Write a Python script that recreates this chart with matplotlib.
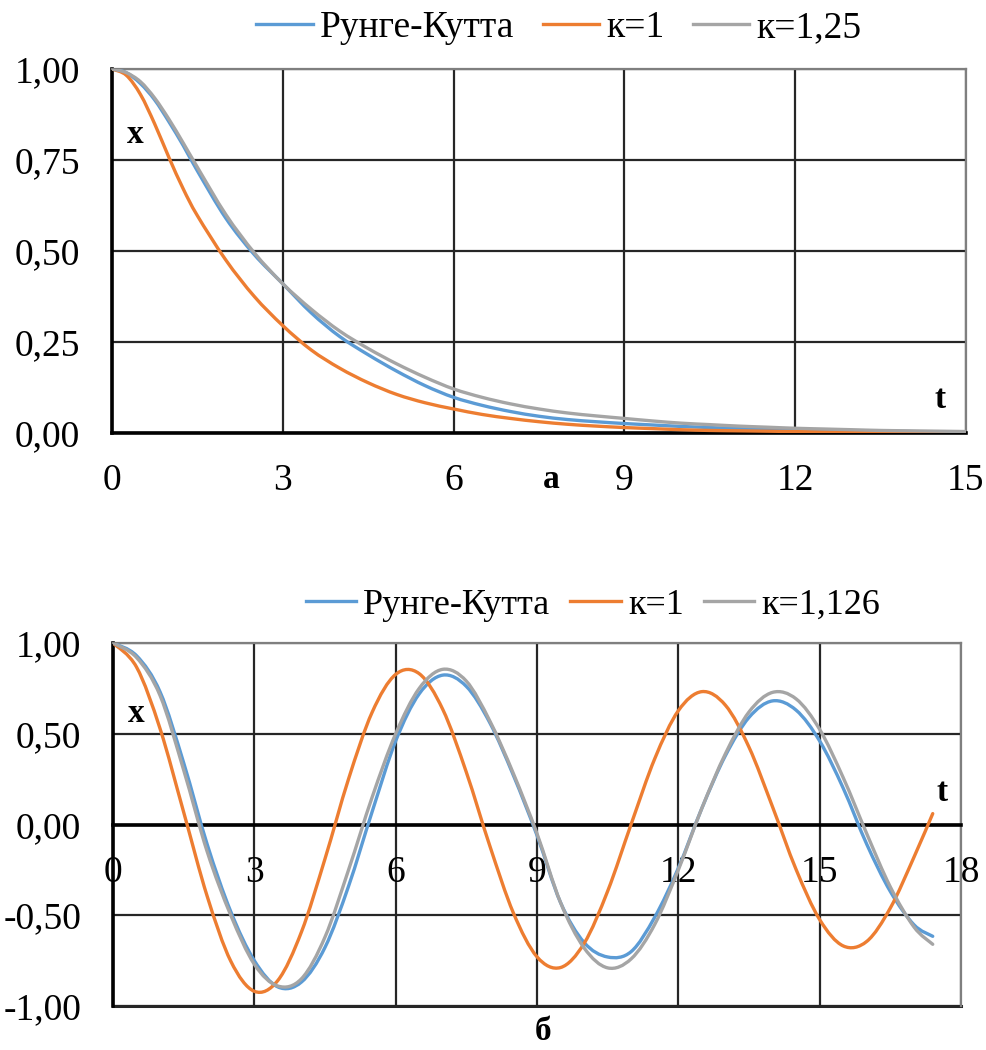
import matplotlib as mpl
import numpy as np
mpl.use('Agg')
import matplotlib.pyplot as plt
from matplotlib.path import Path
from matplotlib.patches import PathPatch
from matplotlib.lines import Line2D
from matplotlib.ticker import FuncFormatter

# ---- data: chart "а" (t = 0 ... 15)
t_a = [0, 0.25, 0.5, 0.75, 1.0, 1.25, 1.5, 2.0, 2.5, 3.0, 3.5, 4.0, 4.5, 5.0, 5.5,
       6.0, 6.5, 7.0, 7.5, 8.0, 8.5, 9.0, 9.5, 10.0, 10.5, 11.0, 11.5, 12.0, 12.5,
       13.0, 13.5, 14.0, 14.5, 15.0]
rk_a = [1.000, 0.990, 0.960, 0.915, 0.855, 0.790, 0.720, 0.590, 0.490, 0.410, 0.330,
        0.265, 0.215, 0.170, 0.130, 0.098, 0.076, 0.059, 0.046, 0.037, 0.031, 0.026,
        0.022, 0.018, 0.015, 0.012, 0.010, 0.008, 0.007, 0.006, 0.005, 0.004, 0.003, 0.003]
k1_a = [1.000, 0.983, 0.930, 0.849, 0.757, 0.671, 0.597, 0.475, 0.375, 0.295, 0.228,
        0.178, 0.138, 0.106, 0.083, 0.066, 0.051, 0.040, 0.031, 0.024, 0.019, 0.015,
        0.012, 0.009, 0.007, 0.006, 0.005, 0.004, 0.003, 0.002, 0.002, 0.001, 0.001, 0.001]
k2_a = [1.000, 0.990, 0.965, 0.920, 0.862, 0.797, 0.730, 0.600, 0.495, 0.410, 0.340,
        0.280, 0.232, 0.190, 0.153, 0.121, 0.098, 0.080, 0.066, 0.055, 0.047, 0.040,
        0.033, 0.027, 0.023, 0.019, 0.016, 0.013, 0.011, 0.009, 0.007, 0.006, 0.005, 0.004]
labels_a = ['Рунге-Кутта', 'к=1', 'к=1,25']

# ---- data: chart "б" (t = 0 ... 17, step 0.5, last point 17.4)
t_b = list(np.arange(0, 17.01, 0.5)) + [17.4]
rk_b = [1.00, 0.93, 0.73, 0.34, -0.11, -0.48, -0.75, -0.895, -0.868, -0.677,
        -0.34, 0.07, 0.46, 0.72, 0.823, 0.761, 0.56, 0.27, -0.06, -0.43,
        -0.65, -0.73, -0.70, -0.51, -0.24, 0.09, 0.38, 0.59, 0.681, 0.63,
        0.46, 0.20, -0.109, -0.369, -0.552, -0.616]
k1_b = [1.000, 0.867, 0.527, 0.068, -0.396, -0.753, -0.919, -0.859, -0.592, -0.189,
        0.251, 0.618, 0.827, 0.831, 0.634, 0.288, -0.119, -0.488, -0.729, -0.788,
        -0.655, -0.367, 0.003, 0.363, 0.627, 0.732, 0.657, 0.426, 0.097, -0.248,
        -0.524, -0.669, -0.644, -0.460, -0.181, 0.06]
k2_b = [1.00, 0.92, 0.71, 0.30, -0.15, -0.50, -0.77, -0.89, -0.85, -0.62,
        -0.25, 0.15, 0.50, 0.75, 0.855, 0.79, 0.57, 0.28, -0.05, -0.43,
        -0.68, -0.79, -0.74, -0.55, -0.25, 0.09, 0.39, 0.62, 0.728, 0.692,
        0.524, 0.258, -0.051, -0.344, -0.564, -0.660]
labels_b = ['Рунге-Кутта', 'к=1', 'к=1,126']

colors = ['#5B9BD5', '#ED7D31', '#A5A5A5']
FONT = 'Liberation Serif'
FS = 27
plt.rcParams['font.family'] = [FONT, 'DejaVu Serif']


def smooth_path(x, y):
    # excel-like smoothed line: catmull-rom segments as cubic beziers
    x = np.asarray(x, float)
    y = np.asarray(y, float)
    px = np.concatenate([[x[0]], x, [x[-1]]])
    py = np.concatenate([[y[0]], y, [y[-1]]])
    verts = [(x[0], y[0])]
    codes = [Path.MOVETO]
    for i in range(len(x) - 1):
        c1 = (px[i+1] + (px[i+2] - px[i]) / 6, py[i+1] + (py[i+2] - py[i]) / 6)
        c2 = (px[i+2] - (px[i+3] - px[i+1]) / 6, py[i+2] - (py[i+3] - py[i+1]) / 6)
        verts += [c1, c2, (px[i+2], py[i+2])]
        codes += [Path.CURVE4] * 3
    return Path(verts, codes)


def comma(v, pos):
    return '{:.2f}'.format(v).replace('.', ',')


def style_axes(ax):
    ax.grid(True, color='#262626', lw=1.6)
    ax.set_axisbelow(True)
    ax.tick_params(length=0, labelsize=FS)
    ax.tick_params(axis='y', pad=23)
    ax.tick_params(axis='x', pad=22)
    for s in ['top', 'right']:
        ax.spines[s].set_color('#7f7f7f')
        ax.spines[s].set_linewidth(1.6)
    ax.spines['left'].set_color('black')
    ax.spines['left'].set_linewidth(2.6)
    ax.spines['bottom'].set_color('black')
    ax.spines['bottom'].set_linewidth(2.6)
    ax.yaxis.set_major_formatter(FuncFormatter(comma))


def draw_series(ax, t, series):
    for ys, c in zip(series, colors):
        ax.add_patch(PathPatch(smooth_path(t, ys), fill=False, edgecolor=c,
                               lw=2.4, capstyle='round', joinstyle='round', zorder=3))


def bold(ax_or_fig, x, y, s, **kw):
    ax_or_fig.text(x, y, s, fontsize=24, fontweight='bold', ha='center', va='center', **kw)


fig = plt.figure(figsize=(9.87, 10.5), dpi=100)
handles = [Line2D([], [], color=c, lw=2.4) for c in colors]

# ---------------- chart а
ax1 = fig.add_axes([112/987, 1 - 433/1050, 854/987, 364/1050])
draw_series(ax1, t_a, [rk_a, k1_a, k2_a])
ax1.set_xlim(0, 15)
ax1.set_ylim(0, 1)
ax1.set_xticks(range(0, 16, 3))
ax1.set_yticks([0, 0.25, 0.5, 0.75, 1.0])
style_axes(ax1)
bold(ax1, 0.40, 0.82, 'x')
bold(ax1, 14.55, 0.093, 't')
bold(fig, 551/987, 1 - 479/1050, 'а')

fig.legend(handles, labels_a, loc='center', bbox_to_anchor=(559/987, 1 - 28/1050),
           ncol=3, frameon=False, handlelength=1.5, handletextpad=0.2, columnspacing=0.75,
           fontsize=FS)

# ---------------- chart б
ax2 = fig.add_axes([113/987, 1 - 1006/1050, 848/987, 363/1050])
draw_series(ax2, t_b, [rk_b, k1_b, k2_b])
ax2.set_xlim(0, 18)
ax2.set_ylim(-1, 1)
ax2.set_xticks(range(0, 19, 3))
ax2.set_yticks([-1, -0.5, 0, 0.5, 1])
style_axes(ax2)
ax2.spines['bottom'].set_position(('data', 0))
ax2.axhline(-1, color='#262626', lw=2.2, clip_on=False, zorder=1)
bold(ax2, 0.49, 0.61, 'x')
bold(ax2, 17.6, 0.176, 't')
bold(fig, 543/987, 1 - 1032/1050, 'б')

fig.legend(handles, labels_b, loc='center', bbox_to_anchor=(593/987, 1 - 605/1050),
           ncol=3, frameon=False, handlelength=1.4, handletextpad=0.2, columnspacing=0.55,
           fontsize=26)

plt.savefig('out.png', dpi=100)
plt.close()
